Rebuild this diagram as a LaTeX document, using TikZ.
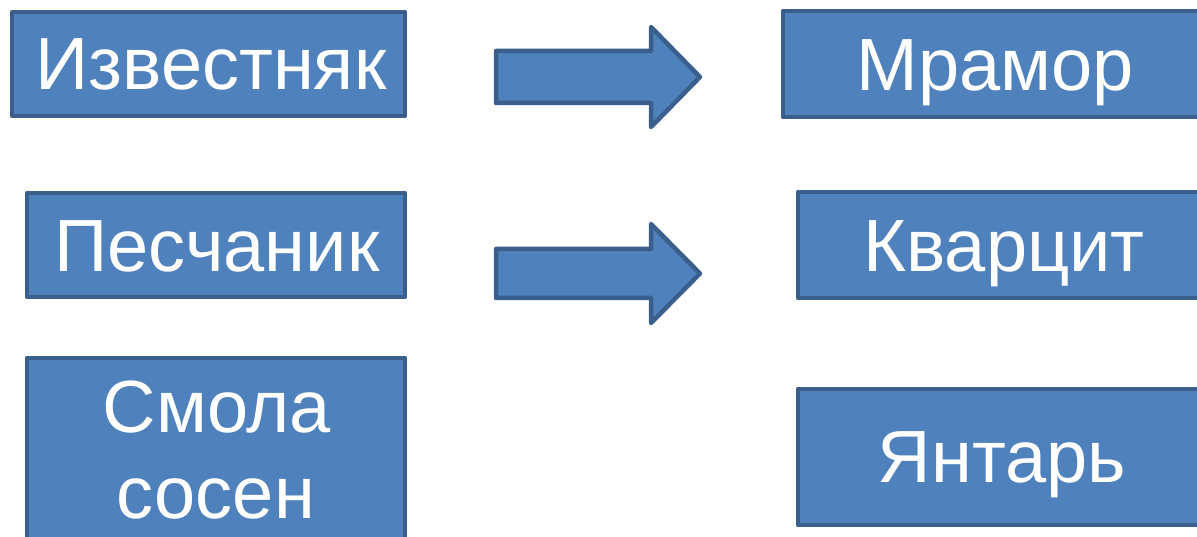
\documentclass[tikz,border=0pt]{standalone}
\usepackage{fontspec}
\setmainfont{Liberation Sans}
\definecolor{boxfill}{HTML}{4F81BD}
\definecolor{boxline}{HTML}{3A5F8C}
\tikzset{
  blockbox/.style={draw=boxline, fill=boxfill, line width=4.5pt, line join=round},
  rocktext/.style={text=white, anchor=base, inner sep=0pt, font=\fontsize{74}{86}\selectfont},
  blockarrow/.style={draw=boxline, fill=boxfill, line width=4.5pt, line join=round}
}
\begin{document}
\begin{tikzpicture}[x=1pt, y=-1pt]
\useasboundingbox (0,0) rectangle (1197,537);
\clip (0,0) rectangle (1197,537);
% boxes
\node[blockbox, rectangle, inner sep=0pt, minimum width=393pt, minimum height=104pt] (b1) at (208.5,64) {};
\node[blockbox, rectangle, inner sep=0pt, minimum width=378pt, minimum height=104pt] (b2) at (216,245) {};
\node[blockbox, rectangle, inner sep=0pt, minimum width=378pt, minimum height=187pt] (b3) at (216,451.5) {};
\node[blockbox, rectangle, inner sep=0pt, minimum width=427pt, minimum height=106pt] (b4) at (996.5,64) {};
\node[blockbox, rectangle, inner sep=0pt, minimum width=412pt, minimum height=106pt] (b5) at (1004,245) {};
\node[blockbox, rectangle, inner sep=0pt, minimum width=412pt, minimum height=136pt] (b6) at (1004,457) {};
% texts
\node[rocktext] (t1) at (211,90) {Известняк};
\node[rocktext] (t2) at (217,272) {Песчаник};
\node[rocktext] (t3a) at (217,432) {Смола};
\node[rocktext] (t3b) at (216,518) {сосен};
\node[rocktext] (t4) at (995,91) {Мрамор};
\node[rocktext] (t5) at (1004,272) {Кварцит};
\node[rocktext] (t6) at (1002,482) {Янтарь};
% block arrows
\draw[blockarrow] (496,51) -- (651,51) -- (651,27) -- (700,77) -- (651,127) -- (651,103) -- (496,103) -- cycle;
\draw[blockarrow] (496,249) -- (651,249) -- (651,224) -- (700,273.5) -- (651,323) -- (651,298) -- (496,298) -- cycle;
\end{tikzpicture}
\end{document}
